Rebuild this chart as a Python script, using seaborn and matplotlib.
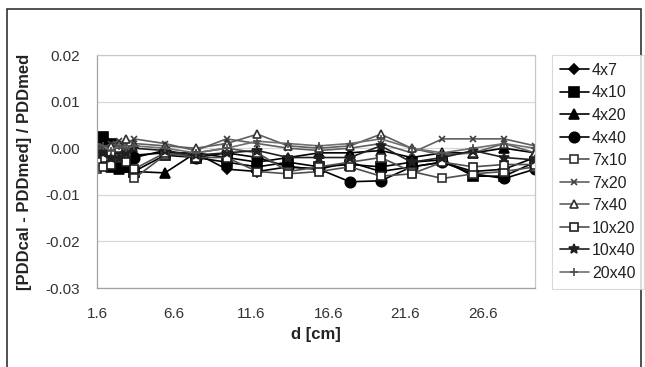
import matplotlib
matplotlib.use("Agg")
import matplotlib.pyplot as plt
from matplotlib.patches import Rectangle
import seaborn as sns
import pandas as pd

depth = [1.6, 2.0, 2.5, 3.0, 3.5, 4.0, 6, 8, 10, 12, 14, 16, 18, 20, 22, 24, 26, 28, 30]

series_names = ["4x7", "4x10", "4x20", "4x40", "7x10", "7x20", "7x40", "10x20", "10x40", "20x40"]

s4x7 = [0.0000, 0.0010, 0.0005, -0.0010, -0.0020, -0.0015, -0.0010, -0.0010, -0.0045, -0.0050, -0.0040, -0.0045, -0.0030, -0.0050, -0.0040, -0.0030, -0.0050, -0.0045, -0.0020]
s4x10 = [-0.0010, 0.0025, 0.0010, -0.0030, -0.0040, -0.0050, -0.0015, -0.0020, -0.0030, -0.0040, -0.0030, -0.0040, -0.0035, -0.0040, -0.0030, -0.0025, -0.0060, -0.0060, -0.0030]
s4x20 = [-0.0020, -0.0030, -0.0040, -0.0045, -0.0040, -0.0050, -0.0053, -0.0010, -0.0020, -0.0030, -0.0020, -0.0010, -0.0010, -0.0005, -0.0020, -0.0010, -0.0010, 0.0000, -0.0010]
s4x40 = [0.0005, 0.0015, 0.0000, -0.0010, -0.0030, -0.0020, -0.0005, -0.0020, -0.0010, -0.0020, -0.0040, -0.0045, -0.0072, -0.0070, -0.0040, -0.0030, -0.0055, -0.0065, -0.0045]
s7x10 = [-0.0045, -0.0020, -0.0010, 0.0000, -0.0010, -0.0065, -0.0015, -0.0010, 0.0000, -0.0010, -0.0050, -0.0040, -0.0030, -0.0020, -0.0050, -0.0065, -0.0055, -0.0050, -0.0040]
s7x20 = [0.0000, 0.0000, 0.0010, 0.0015, 0.0010, 0.0020, 0.0010, -0.0005, 0.0020, 0.0010, 0.0000, -0.0005, 0.0000, 0.0010, -0.0010, 0.0020, 0.0020, 0.0020, 0.0005]
s7x40 = [-0.0005, -0.0005, 0.0005, 0.0010, 0.0020, 0.0010, 0.0005, 0.0000, 0.0010, 0.0030, 0.0005, 0.0000, 0.0005, 0.0030, 0.0000, -0.0015, -0.0010, 0.0010, -0.0010]
s10x20 = [-0.0030, -0.0040, -0.0035, -0.0020, -0.0030, -0.0045, -0.0010, -0.0020, -0.0020, -0.0050, -0.0055, -0.0050, -0.0040, -0.0060, -0.0055, -0.0030, -0.0040, -0.0035, -0.0035]
s10x40 = [-0.0010, -0.0010, -0.0020, -0.0020, -0.0010, 0.0000, -0.0005, -0.0015, -0.0010, -0.0005, -0.0020, -0.0020, -0.0020, 0.0005, -0.0030, -0.0020, -0.0005, -0.0020, -0.0025]
s20x40 = [0.0010, 0.0005, -0.0005, 0.0005, 0.0000, 0.0005, 0.0000, -0.0010, 0.0000, 0.0015, 0.0010, 0.0005, 0.0010, 0.0020, 0.0000, -0.0010, 0.0000, 0.0010, 0.0000]

values = [s4x7, s4x10, s4x20, s4x40, s7x10, s7x20, s7x40, s10x20, s10x40, s20x40]

x_ticks = [1.6, 6.6, 11.6, 16.6, 21.6, 26.6]
x_tick_labels = ["1.6", "6.6", "11.6", "16.6", "21.6", "26.6"]
y_ticks = [0.02, 0.01, 0.00, -0.01, -0.02, -0.03]
y_tick_labels = ["0.02", "0.01", "0.00", "-0.01", "-0.02", "-0.03"]

# style per series: (marker, size, line color, marker face, marker edge)
styles = {
    "4x7":   ("D", 5.0, "#000000", "#000000", "#000000"),
    "4x10":  ("s", 7.5, "#000000", "#000000", "#000000"),
    "4x20":  ("^", 6.5, "#000000", "#000000", "#000000"),
    "4x40":  ("o", 7.5, "#000000", "#000000", "#000000"),
    "7x10":  ("s", 5.5, "#505050", "white", "#303030"),
    "7x20":  ("x", 5.0, "#606060", "#404040", "#404040"),
    "7x40":  ("^", 6.0, "#606060", "white", "#303030"),
    "10x20": ("s", 5.5, "#505050", "white", "#202020"),
    "10x40": ("*", 7.0, "#202020", "#202020", "#202020"),
    "20x40": ("+", 6.0, "#707070", "#505050", "#505050"),
}

rows = []
for name, vals in zip(series_names, values):
    for d, v in zip(depth, vals):
        rows.append({"series": name, "d": d, "v": v})
df = pd.DataFrame(rows)

sns.set_style("white")
plt.rcParams["font.family"] = ["Liberation Sans", "DejaVu Sans"]

fig = plt.figure(figsize=(6.45, 3.67), dpi=100)
ax = fig.add_axes([97 / 645, 1 - 288 / 367, (535 - 97) / 645, (288 - 55) / 367])

for name in series_names:
    m, ms, lc, mfc, mec = styles[name]
    sub = df[df["series"] == name]
    sns.lineplot(data=sub, x="d", y="v", ax=ax, color=lc, linewidth=1.2,
                 marker=m, markersize=ms, markerfacecolor=mfc, markeredgecolor=mec,
                 markeredgewidth=1.2, label=name, legend=False)

ax.set_xlim(1.6, 30)
ax.set_ylim(-0.03, 0.02)
ax.set_yticks(y_ticks)
ax.set_yticklabels(y_tick_labels)
ax.set_xticks(x_ticks)
ax.set_xticklabels(x_tick_labels)
ax.tick_params(axis="y", labelsize=11, colors="#333333", length=0, pad=12)
ax.tick_params(axis="x", labelsize=11, colors="#333333", length=0, pad=14)
ax.yaxis.grid(True, color="#d8d8d8", linewidth=0.9)
ax.xaxis.grid(False)
for sp in ax.spines.values():
    sp.set_color("#c8c8c8")
    sp.set_linewidth(0.9)
ax.spines["left"].set_color("#a0a0a0")
ax.spines["bottom"].set_color("#a0a0a0")

ax.set_xlabel("d [cm]", fontsize=12, fontweight="bold", color="#222222", labelpad=4)
ax.set_ylabel("[PDDcal - PDDmed] / PDDmed", fontsize=12, fontweight="bold", color="#222222", labelpad=10)

handles, labels = ax.get_legend_handles_labels()
leg = fig.legend(handles, labels, loc="upper left", bbox_to_anchor=(552 / 645, 1 - 55 / 367),
                 frameon=True, fontsize=11.5, labelspacing=0.47, handlelength=1.8,
                 handletextpad=0.2, borderpad=0.5, borderaxespad=0, fancybox=False)
leg.get_frame().set_edgecolor("#d0d0d0")
leg.get_frame().set_linewidth(0.8)
for t in leg.get_texts():
    t.set_color("#222222")

fig.patches.append(Rectangle((7 / 645, -0.05), (641 - 7) / 645, 1.05 - 9 / 367,
                             transform=fig.transFigure, fill=False,
                             edgecolor="#333333", linewidth=1.2))

fig.savefig("out.png", dpi=100)
